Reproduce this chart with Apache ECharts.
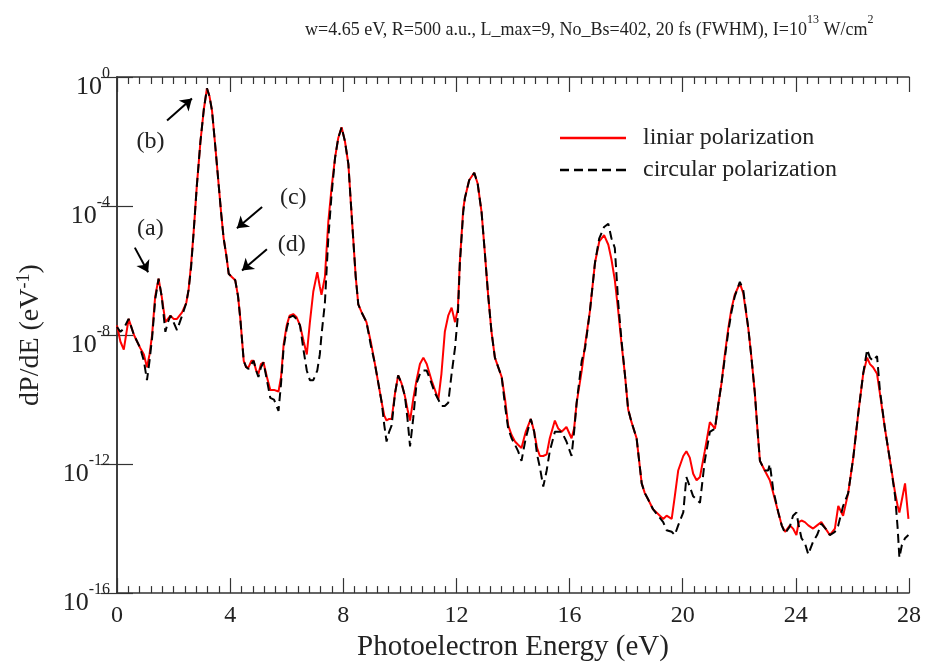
<!DOCTYPE html>
<html>
<head>
<meta charset="utf-8">
<script src="https://cdn.jsdelivr.net/npm/echarts@6/dist/echarts.min.js"></script>
<style>
  html, body { margin: 0; background: #fff; }
  #chart { width: 926px; height: 667px; }
</style>
</head>
<body>
<div id="chart"></div>
<script>
// photoelectron energy (eV)
const energy = [
  0.00, 0.12, 0.24, 0.41, 0.60, 0.82, 0.95, 1.06, 1.15, 1.24,
  1.35, 1.47, 1.58, 1.71, 1.80, 1.89, 2.00, 2.12, 2.30, 2.45,
  2.53, 2.62, 2.71, 2.82, 2.95, 3.07, 3.18, 3.27, 3.36, 3.47,
  3.59, 3.68, 3.77, 3.86, 3.95, 4.06, 4.18, 4.28, 4.36, 4.48,
  4.57, 4.65, 4.75, 4.83, 4.92, 5.00, 5.09, 5.18, 5.30, 5.42,
  5.55, 5.71, 5.80, 5.89, 6.00, 6.10, 6.23, 6.35, 6.47, 6.60,
  6.71, 6.82, 6.94, 7.08, 7.17, 7.23, 7.35, 7.47, 7.59, 7.71,
  7.82, 7.94, 8.06, 8.18, 8.26, 8.35, 8.44, 8.53, 8.65, 8.82,
  8.97, 9.12, 9.24, 9.36, 9.45, 9.53, 9.62, 9.71, 9.83, 9.94,
  10.06, 10.18, 10.27, 10.36, 10.47, 10.59, 10.71, 10.83, 10.95, 11.12,
  11.24, 11.36, 11.47, 11.59, 11.71, 11.83, 11.95, 12.05, 12.12, 12.24,
  12.30, 12.45, 12.63, 12.75, 12.89, 13.00, 13.12, 13.24, 13.36, 13.48,
  13.60, 13.72, 13.83, 13.95, 14.07, 14.18, 14.30, 14.45, 14.63, 14.75,
  14.85, 14.95, 15.07, 15.19, 15.30, 15.48, 15.60, 15.72, 15.89, 16.07,
  16.16, 16.25, 16.43, 16.55, 16.72, 16.90, 17.05, 17.22, 17.37, 17.48,
  17.60, 17.72, 17.84, 17.96, 18.07, 18.19, 18.37, 18.55, 18.66, 18.78,
  18.95, 19.13, 19.31, 19.43, 19.61, 19.72, 19.84, 20.02, 20.13, 20.25,
  20.37, 20.49, 20.61, 20.78, 20.96, 21.14, 21.25, 21.37, 21.49, 21.61,
  21.72, 21.84, 22.02, 22.14, 22.32, 22.43, 22.55, 22.64, 22.73, 22.90,
  23.02, 23.08, 23.20, 23.38, 23.50, 23.62, 23.79, 23.90, 24.02, 24.10,
  24.20, 24.32, 24.44, 24.61, 24.75, 24.90, 25.05, 25.20, 25.38, 25.50,
  25.67, 25.85, 26.03, 26.21, 26.38, 26.52, 26.62, 26.73, 26.87, 26.97,
  27.15, 27.33, 27.51, 27.60, 27.66, 27.75, 27.86, 27.98
]

// log10 of dP/dE, liniar polarization (red)
const linearExp = [
  -7.7, -8.2, -8.45, -7.5, -8.0, -8.4, -8.6, -9.0, -8.6, -8.0,
  -6.8, -6.25, -6.8, -7.6, -7.5, -7.4, -7.5, -7.5, -7.3, -7.0,
  -6.6, -5.8, -4.8, -3.4, -2.0, -1.0, -0.35, -0.6, -1.05, -2.1,
  -3.3, -4.2, -5.0, -5.5, -6.1, -6.2, -6.3, -6.8, -7.5, -8.8,
  -9.0, -9.0, -8.8, -8.8, -9.1, -9.2, -8.9, -8.85, -9.3, -9.7,
  -9.7, -9.75, -9.3, -8.3, -7.7, -7.4, -7.35, -7.45, -7.7, -8.2,
  -8.6, -7.6, -6.65, -6.05, -6.5, -6.75, -6.2, -4.5, -3.4, -2.5,
  -1.9, -1.56, -2.0, -2.7, -3.8, -5.0, -6.2, -7.05, -7.3, -7.6,
  -8.2, -8.9, -9.5, -10.1, -10.5, -10.65, -10.6, -10.6, -9.8, -9.25,
  -9.5, -9.9, -10.3, -10.65, -10.0, -9.4, -8.9, -8.7, -8.9, -9.4,
  -9.7, -10.0, -9.2, -7.9, -7.4, -7.15, -7.6, -7.2, -5.75, -4.1,
  -3.75, -3.2, -2.97, -3.3, -4.2, -5.4, -6.75, -7.9, -8.7, -9.0,
  -9.3, -10.0, -10.8, -11.1, -11.3, -11.4, -11.5, -11.0, -10.6, -11.0,
  -11.5, -11.75, -11.75, -11.7, -11.2, -10.65, -10.9, -11.0, -10.85, -11.2,
  -10.9, -10.1, -9.1, -8.3, -7.25, -5.75, -5.1, -4.9, -5.2, -5.65,
  -6.3, -7.25, -8.3, -9.25, -10.3, -10.7, -11.2, -12.6, -12.9, -13.1,
  -13.4, -13.55, -13.7, -13.6, -13.7, -13.0, -12.2, -11.75, -11.6, -11.8,
  -12.3, -12.5, -12.4, -11.6, -10.7, -10.9, -10.2, -9.5, -8.6, -7.8,
  -7.2, -6.75, -6.4, -6.7, -7.8, -8.7, -9.8, -10.9, -11.9, -12.2,
  -12.4, -12.5, -12.9, -13.5, -13.9, -14.1, -13.9, -14.0, -14.2, -13.8,
  -13.75, -13.8, -13.9, -14.0, -13.9, -13.8, -14.0, -14.2, -14.0, -13.3,
  -13.6, -12.9, -11.8, -10.4, -9.2, -8.7, -8.9, -9.0, -9.2, -9.8,
  -10.9, -11.9, -12.9, -13.3, -13.5, -13.1, -12.6, -13.7
]

// log10 of dP/dE, circular polarization (black dashed)
const circularExp = [
  -7.75, -7.9, -7.8, -7.5, -8.0, -8.4, -8.8, -9.4, -8.8, -8.1,
  -6.9, -6.25, -6.8, -7.9, -7.6, -7.4, -7.6, -7.85, -7.4, -7.0,
  -6.6, -5.9, -4.8, -3.4, -2.0, -1.0, -0.35, -0.6, -1.05, -2.1,
  -3.3, -4.2, -5.0, -5.5, -6.1, -6.2, -6.3, -6.8, -7.5, -8.8,
  -9.0, -9.05, -8.9, -8.8, -9.1, -9.3, -9.0, -8.85, -9.4, -9.95,
  -10.0, -10.35, -9.5, -8.4, -7.8, -7.45, -7.4, -7.5, -7.7, -8.5,
  -9.1, -9.4, -9.4, -9.1, -8.6, -8.0, -7.0, -5.0, -3.6, -2.5,
  -1.9, -1.56, -2.0, -2.7, -3.8, -5.0, -6.2, -7.05, -7.3, -7.6,
  -8.3, -8.9, -9.5, -10.1, -10.8, -11.3, -11.0, -10.8, -9.8, -9.25,
  -9.5, -9.9, -10.6, -11.45, -10.6, -9.5, -9.2, -9.1, -9.1, -9.5,
  -9.8, -10.0, -10.2, -10.2, -10.1, -9.2, -8.4, -7.4, -5.8, -4.2,
  -3.75, -3.2, -2.97, -3.3, -4.2, -5.4, -6.75, -7.9, -8.7, -9.0,
  -9.3, -10.2, -10.9, -11.2, -11.4, -11.6, -11.9, -11.2, -10.6, -11.0,
  -11.7, -12.1, -12.7, -12.2, -11.6, -11.0, -11.0, -11.0, -11.3, -11.75,
  -11.0, -10.1, -8.8, -8.4, -7.25, -5.75, -5.0, -4.65, -4.55, -5.0,
  -5.3, -7.0, -8.2, -9.25, -10.3, -10.7, -11.2, -12.6, -12.9, -13.1,
  -13.4, -13.6, -13.8, -14.05, -14.1, -14.2, -13.9, -13.5, -12.4, -12.7,
  -13.0, -13.1, -13.2, -11.9, -11.0, -10.9, -10.2, -9.5, -8.7, -7.9,
  -7.3, -6.8, -6.35, -6.6, -7.8, -8.7, -9.8, -10.9, -11.9, -12.2,
  -12.2, -12.0, -12.8, -13.5, -13.9, -14.15, -13.93, -13.6, -13.5, -13.9,
  -14.3, -14.45, -14.8, -14.4, -14.2, -13.85, -14.0, -14.2, -14.1, -13.9,
  -13.3, -12.9, -11.8, -10.4, -9.2, -8.45, -8.7, -8.8, -8.65, -9.7,
  -10.9, -11.9, -13.0, -14.0, -14.9, -14.5, -14.3, -14.2
]

// annotation arrows: [startE, startExp, endE, endExp]
const arrows = [
  [0.63, -5.29, 1.10, -6.05],
  [1.77, -1.35, 2.65, -0.67],
  [5.13, -4.03, 4.24, -4.69],
  [5.30, -5.34, 4.42, -6.00]
]
const noteNames = ['(a)', '(b)', '(c)', '(d)']
const notePos = [[1.18, -4.69], [1.18, -2.01], [6.23, -3.73], [6.18, -5.19]]

const seriesNames = ['liniar polarization', 'circular polarization']

const serif = 'Liberation Serif'
const ink = '#222'
const axisColor = '#333'

// legend icons drawn as plain shapes so no marker dot shows
const solidIcon = 'path://M0,0h66v2h-66z'
const dashIcon = 'path://M0,0h9v2h-9z M14,0h9v2h-9z M28,0h9v2h-9z M42,0h9v2h-9z M56,0h10v2h-10z'

const toPairs = (exps) => energy.map((e, i) => [e, Math.pow(10, exps[i])])

const supLabel = (v) => {
  const p = Math.round(Math.log10(v))
  return '{b|10}{s|' + p + '}'
}

const chart = echarts.init(document.getElementById('chart'))

const xBase = {
  type: 'value',
  min: 0,
  max: 28,
  interval: 4,
  splitLine: { show: false },
  axisLine: { lineStyle: { color: axisColor, width: 1.5 } },
  axisTick: { inside: true, length: 15, lineStyle: { color: axisColor, width: 1.2 } },
  minorTick: { show: true, splitNumber: 10, length: 7, lineStyle: { color: axisColor, width: 1.2 } }
}

const yBase = {
  type: 'log',
  logBase: 10000,
  min: 1e-16,
  max: 1,
  splitLine: { show: false },
  minorTick: { show: false },
  minorSplitLine: { show: false },
  axisLine: { show: true, lineStyle: { color: axisColor, width: 1.5 } },
  axisTick: { inside: true, length: 16, lineStyle: { color: axisColor, width: 1.2 } }
}

chart.setOption({
  animation: false,
  backgroundColor: '#fff',
  title: {
    text: '{t|w=4.65 eV, R=500 a.u., L_max=9, No_Bs=402, 20 fs (FWHM), I=10}{s|13}{t| W/cm}{s|2}',
    left: 300,
    top: 9,
    textStyle: {
      fontWeight: 'normal',
      rich: {
        t: { fontFamily: serif, fontSize: 18, fontWeight: 'normal', color: ink, lineHeight: 25, verticalAlign: 'bottom' },
        s: { fontFamily: serif, fontSize: 12, fontWeight: 'normal', color: ink, lineHeight: 6, verticalAlign: 'top' }
      }
    }
  },
  grid: { left: 117, right: 17, top: 77, bottom: 62 },
  legend: {
    orient: 'vertical',
    left: 555,
    top: 121,
    data: [
      { name: seriesNames[0], icon: solidIcon },
      { name: seriesNames[1], icon: dashIcon }
    ],
    itemWidth: 66,
    itemHeight: 2.5,
    symbolKeepAspect: false,
    itemGap: 8,
    textStyle: { fontFamily: serif, fontSize: 24, color: ink, padding: [0, 0, 0, 12] }
  },
  xAxis: [
    Object.assign({}, xBase, {
      position: 'bottom',
      name: 'Photoelectron Energy (eV)',
      nameLocation: 'middle',
      nameGap: 32,
      nameTextStyle: { fontFamily: serif, fontSize: 29, color: ink },
      axisLabel: { fontFamily: serif, fontSize: 24, color: ink, margin: 11 }
    }),
    Object.assign({}, xBase, { position: 'top', axisLabel: { show: false } })
  ],
  yAxis: [
    Object.assign({}, yBase, {
      position: 'left',
      name: '{t|dP/dE (eV}{s|-1}{t|)}',
      nameLocation: 'middle',
      nameGap: 72,
      nameTextStyle: {
        rich: {
          t: { fontFamily: serif, fontSize: 28, color: ink, lineHeight: 30, verticalAlign: 'bottom' },
          s: { fontFamily: serif, fontSize: 18, color: ink, lineHeight: 6, verticalAlign: 'top' }
        }
      },
      axisLabel: {
        margin: 7,
        padding: [12, 0, 0, 0],
        formatter: supLabel,
        rich: {
          b: { fontFamily: serif, fontSize: 26, color: ink, lineHeight: 34, verticalAlign: 'bottom' },
          s: { fontFamily: serif, fontSize: 16, color: ink, lineHeight: 8, verticalAlign: 'top' }
        }
      }
    }),
    Object.assign({}, yBase, { position: 'right', axisLabel: { show: false } })
  ],
  series: [
    {
      name: seriesNames[0],
      type: 'line',
      data: toPairs(linearExp),
      showSymbol: false,
      symbol: 'none',
      color: '#f00',
      lineStyle: { color: '#f00', width: 2 },
      z: 2,
      markLine: {
        silent: true,
        symbol: ['none', 'arrow'],
        symbolSize: 11,
        label: { show: false },
        lineStyle: { color: '#000', width: 2, type: 'solid' },
        data: arrows.map((a) => [
          { coord: [a[0], Math.pow(10, a[1])] },
          { coord: [a[2], Math.pow(10, a[3])] }
        ])
      },
      markPoint: {
        silent: true,
        symbol: 'circle',
        symbolSize: 1,
        itemStyle: { color: 'transparent' },
        label: {
          show: true,
          position: 'inside',
          fontFamily: serif,
          fontSize: 24,
          color: ink,
          formatter: (p) => p.name
        },
        data: noteNames.map((n, i) => ({ name: n, coord: [notePos[i][0], Math.pow(10, notePos[i][1])] }))
      }
    },
    {
      name: seriesNames[1],
      type: 'line',
      data: toPairs(circularExp),
      showSymbol: false,
      symbol: 'none',
      color: '#000',
      lineStyle: { color: '#000', width: 2, type: [9, 5] },
      z: 3
    }
  ]
})
</script>
</body>
</html>
